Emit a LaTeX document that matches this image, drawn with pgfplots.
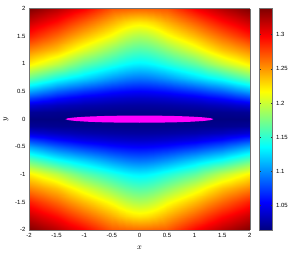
\documentclass[border=0pt]{standalone}
\usepackage{pgfplots}
\pgfplotsset{compat=1.18}
\usepackage{fontspec}
\setmainfont{Liberation Sans}
\definecolor{mag}{RGB}{255,0,255}
\pgfplotsset{colorbar shift/.style={}}
\begin{document}
\begin{tikzpicture}
\begin{axis}[
  view={0}{90},
  scale only axis, width=221.6pt, height=222pt,
  xmin=-2,xmax=2,ymin=-2,ymax=2,
  xtick={-2,-1.5,-1,-0.5,0,0.5,1,1.5,2},
  ytick={-2,-1.5,-1,-0.5,0,0.5,1,1.5,2},
  ztick=\empty,
  tick align=inside, major tick length=0pt,
  axis line style={black!55, line width=0.5pt},
  ticklabel style={font=\fontsize{6}{7}\selectfont},
  /pgf/number format/assume math mode=true,
  xlabel={$x$}, ylabel={$y$},
  label style={font=\fontsize{8}{9}\selectfont},
  xlabel style={yshift=-1.7pt},
  colormap/jet,
  point meta min=1.0146, point meta max=1.338,
  colorbar,
  colorbar style={at={(parent axis.north east)}, anchor=north west, xshift=9.7pt,
    width=13pt, ytick={1.05,1.1,1.15,1.2,1.25,1.3},
    yticklabel style={font=\fontsize{6}{7}\selectfont},
    /pgf/number format/assume math mode=true,
    ytick pos=both, yticklabel pos=right,
    major tick length=1.8pt, tick align=inside,
    tick style={black!80, line width=0.3pt},
    axis line style={black!55, line width=0.5pt}},
]
\addplot3[surf, shader=interp, mesh/cols=25, mesh/rows=21] coordinates {
(-2,-2,1.338) (-1.75,-2,1.329) (-1.5,-2,1.32) (-1.25,-2,1.309) (-1,-2,1.298) (-0.875,-2,1.291) (-0.75,-2,1.284) (-0.625,-2,1.277) (-0.5,-2,1.27) (-0.375,-2,1.2682) (-0.25,-2,1.2666) (-0.125,-2,1.2654) (0,-2,1.265) (0.125,-2,1.2654) (0.25,-2,1.2666) (0.375,-2,1.2682) (0.5,-2,1.27) (0.625,-2,1.277) (0.75,-2,1.284) (0.875,-2,1.291) (1,-2,1.298) (1.25,-2,1.309) (1.5,-2,1.32) (1.75,-2,1.329) (2,-2,1.338)
(-2,-1.75,1.315) (-1.75,-1.75,1.3045) (-1.5,-1.75,1.294) (-1.25,-1.75,1.281) (-1,-1.75,1.268) (-0.875,-1.75,1.2615) (-0.75,-1.75,1.255) (-0.625,-1.75,1.2484) (-0.5,-1.75,1.2419) (-0.375,-1.75,1.2352) (-0.25,-1.75,1.2293) (-0.125,-1.75,1.2252) (0,-1.75,1.2236) (0.125,-1.75,1.2252) (0.25,-1.75,1.2293) (0.375,-1.75,1.2352) (0.5,-1.75,1.2419) (0.625,-1.75,1.2484) (0.75,-1.75,1.255) (0.875,-1.75,1.2615) (1,-1.75,1.268) (1.25,-1.75,1.281) (1.5,-1.75,1.294) (1.75,-1.75,1.3045) (2,-1.75,1.315)
(-2,-1.5,1.289) (-1.75,-1.5,1.277) (-1.5,-1.5,1.265) (-1.25,-1.5,1.2517) (-1,-1.5,1.2384) (-0.875,-1.5,1.2321) (-0.75,-1.5,1.2257) (-0.625,-1.5,1.2194) (-0.5,-1.5,1.213) (-0.375,-1.5,1.2049) (-0.25,-1.5,1.1979) (-0.125,-1.5,1.1929) (0,-1.5,1.191) (0.125,-1.5,1.1929) (0.25,-1.5,1.1979) (0.375,-1.5,1.2049) (0.5,-1.5,1.213) (0.625,-1.5,1.2194) (0.75,-1.5,1.2257) (0.875,-1.5,1.2321) (1,-1.5,1.2384) (1.25,-1.5,1.2517) (1.5,-1.5,1.265) (1.75,-1.5,1.277) (2,-1.5,1.289)
(-2,-1.25,1.255) (-1.75,-1.25,1.245) (-1.5,-1.25,1.2349) (-1.25,-1.25,1.2205) (-1,-1.25,1.206) (-0.875,-1.25,1.1993) (-0.75,-1.25,1.1926) (-0.625,-1.25,1.1859) (-0.5,-1.25,1.1792) (-0.375,-1.25,1.1725) (-0.25,-1.25,1.1667) (-0.125,-1.25,1.1626) (0,-1.25,1.161) (0.125,-1.25,1.1626) (0.25,-1.25,1.1667) (0.375,-1.25,1.1725) (0.5,-1.25,1.1792) (0.625,-1.25,1.1859) (0.75,-1.25,1.1926) (0.875,-1.25,1.1993) (1,-1.25,1.206) (1.25,-1.25,1.2205) (1.5,-1.25,1.2349) (1.75,-1.25,1.245) (2,-1.25,1.255)
(-2,-1,1.221) (-1.75,-1,1.2083) (-1.5,-1,1.1956) (-1.25,-1,1.1809) (-1,-1,1.1662) (-0.875,-1,1.161) (-0.75,-1,1.1559) (-0.625,-1,1.1507) (-0.5,-1,1.1455) (-0.375,-1,1.1404) (-0.25,-1,1.1359) (-0.125,-1,1.1327) (0,-1,1.1315) (0.125,-1,1.1327) (0.25,-1,1.1359) (0.375,-1,1.1404) (0.5,-1,1.1455) (0.625,-1,1.1507) (0.75,-1,1.1559) (0.875,-1,1.161) (1,-1,1.1662) (1.25,-1,1.1809) (1.5,-1,1.1956) (1.75,-1,1.2083) (2,-1,1.221)
(-2,-0.75,1.1689) (-1.75,-0.75,1.1557) (-1.5,-0.75,1.1424) (-1.25,-0.75,1.133) (-1,-0.75,1.1236) (-0.875,-0.75,1.1188) (-0.75,-0.75,1.114) (-0.625,-0.75,1.1091) (-0.5,-0.75,1.1043) (-0.375,-0.75,1.1003) (-0.25,-0.75,1.0967) (-0.125,-0.75,1.0942) (0,-0.75,1.0933) (0.125,-0.75,1.0942) (0.25,-0.75,1.0967) (0.375,-0.75,1.1003) (0.5,-0.75,1.1043) (0.625,-0.75,1.1091) (0.75,-0.75,1.114) (0.875,-0.75,1.1188) (1,-0.75,1.1236) (1.25,-0.75,1.133) (1.5,-0.75,1.1424) (1.75,-0.75,1.1557) (2,-0.75,1.1689)
(-2,-0.5,1.109) (-1.75,-0.5,1.0978) (-1.5,-0.5,1.0865) (-1.25,-0.5,1.0791) (-1,-0.5,1.0716) (-0.875,-0.5,1.0688) (-0.75,-0.5,1.066) (-0.625,-0.5,1.0631) (-0.5,-0.5,1.0603) (-0.375,-0.5,1.0584) (-0.25,-0.5,1.0567) (-0.125,-0.5,1.0555) (0,-0.5,1.055) (0.125,-0.5,1.0555) (0.25,-0.5,1.0567) (0.375,-0.5,1.0584) (0.5,-0.5,1.0603) (0.625,-0.5,1.0631) (0.75,-0.5,1.066) (0.875,-0.5,1.0688) (1,-0.5,1.0716) (1.25,-0.5,1.0791) (1.5,-0.5,1.0865) (1.75,-0.5,1.0978) (2,-0.5,1.109)
(-2,-0.375,1.0753) (-1.75,-0.375,1.0669) (-1.5,-0.375,1.0584) (-1.25,-0.375,1.0527) (-1,-0.375,1.0469) (-0.875,-0.375,1.0453) (-0.75,-0.375,1.0437) (-0.625,-0.375,1.0421) (-0.5,-0.375,1.0405) (-0.375,-0.375,1.0394) (-0.25,-0.375,1.0384) (-0.125,-0.375,1.0378) (0,-0.375,1.0375) (0.125,-0.375,1.0378) (0.25,-0.375,1.0384) (0.375,-0.375,1.0394) (0.5,-0.375,1.0405) (0.625,-0.375,1.0421) (0.75,-0.375,1.0437) (0.875,-0.375,1.0453) (1,-0.375,1.0469) (1.25,-0.375,1.0527) (1.5,-0.375,1.0584) (1.75,-0.375,1.0669) (2,-0.375,1.0753)
(-2,-0.25,1.0428) (-1.75,-0.25,1.0386) (-1.5,-0.25,1.0343) (-1.25,-0.25,1.0318) (-1,-0.25,1.0292) (-0.875,-0.25,1.0285) (-0.75,-0.25,1.0278) (-0.625,-0.25,1.027) (-0.5,-0.25,1.0263) (-0.375,-0.25,1.0258) (-0.25,-0.25,1.0254) (-0.125,-0.25,1.0251) (0,-0.25,1.025) (0.125,-0.25,1.0251) (0.25,-0.25,1.0254) (0.375,-0.25,1.0258) (0.5,-0.25,1.0263) (0.625,-0.25,1.027) (0.75,-0.25,1.0278) (0.875,-0.25,1.0285) (1,-0.25,1.0292) (1.25,-0.25,1.0318) (1.5,-0.25,1.0343) (1.75,-0.25,1.0386) (2,-0.25,1.0428)
(-2,-0.125,1.0219) (-1.75,-0.125,1.0209) (-1.5,-0.125,1.0198) (-1.25,-0.125,1.0192) (-1,-0.125,1.0185) (-0.875,-0.125,1.0183) (-0.75,-0.125,1.0182) (-0.625,-0.125,1.018) (-0.5,-0.125,1.0178) (-0.375,-0.125,1.0177) (-0.25,-0.125,1.0176) (-0.125,-0.125,1.0175) (0,-0.125,1.0175) (0.125,-0.125,1.0175) (0.25,-0.125,1.0176) (0.375,-0.125,1.0177) (0.5,-0.125,1.0178) (0.625,-0.125,1.018) (0.75,-0.125,1.0182) (0.875,-0.125,1.0183) (1,-0.125,1.0185) (1.25,-0.125,1.0192) (1.5,-0.125,1.0198) (1.75,-0.125,1.0209) (2,-0.125,1.0219)
(-2,0,1.015) (-1.75,0,1.015) (-1.5,0,1.015) (-1.25,0,1.015) (-1,0,1.015) (-0.875,0,1.015) (-0.75,0,1.015) (-0.625,0,1.015) (-0.5,0,1.015) (-0.375,0,1.015) (-0.25,0,1.015) (-0.125,0,1.015) (0,0,1.015) (0.125,0,1.015) (0.25,0,1.015) (0.375,0,1.015) (0.5,0,1.015) (0.625,0,1.015) (0.75,0,1.015) (0.875,0,1.015) (1,0,1.015) (1.25,0,1.015) (1.5,0,1.015) (1.75,0,1.015) (2,0,1.015)
(-2,0.125,1.0219) (-1.75,0.125,1.0209) (-1.5,0.125,1.0198) (-1.25,0.125,1.0192) (-1,0.125,1.0185) (-0.875,0.125,1.0183) (-0.75,0.125,1.0182) (-0.625,0.125,1.018) (-0.5,0.125,1.0178) (-0.375,0.125,1.0177) (-0.25,0.125,1.0176) (-0.125,0.125,1.0175) (0,0.125,1.0175) (0.125,0.125,1.0175) (0.25,0.125,1.0176) (0.375,0.125,1.0177) (0.5,0.125,1.0178) (0.625,0.125,1.018) (0.75,0.125,1.0182) (0.875,0.125,1.0183) (1,0.125,1.0185) (1.25,0.125,1.0192) (1.5,0.125,1.0198) (1.75,0.125,1.0209) (2,0.125,1.0219)
(-2,0.25,1.0428) (-1.75,0.25,1.0386) (-1.5,0.25,1.0343) (-1.25,0.25,1.0318) (-1,0.25,1.0292) (-0.875,0.25,1.0285) (-0.75,0.25,1.0278) (-0.625,0.25,1.027) (-0.5,0.25,1.0263) (-0.375,0.25,1.0258) (-0.25,0.25,1.0254) (-0.125,0.25,1.0251) (0,0.25,1.025) (0.125,0.25,1.0251) (0.25,0.25,1.0254) (0.375,0.25,1.0258) (0.5,0.25,1.0263) (0.625,0.25,1.027) (0.75,0.25,1.0278) (0.875,0.25,1.0285) (1,0.25,1.0292) (1.25,0.25,1.0318) (1.5,0.25,1.0343) (1.75,0.25,1.0386) (2,0.25,1.0428)
(-2,0.375,1.0753) (-1.75,0.375,1.0669) (-1.5,0.375,1.0584) (-1.25,0.375,1.0527) (-1,0.375,1.0469) (-0.875,0.375,1.0453) (-0.75,0.375,1.0437) (-0.625,0.375,1.0421) (-0.5,0.375,1.0405) (-0.375,0.375,1.0394) (-0.25,0.375,1.0384) (-0.125,0.375,1.0378) (0,0.375,1.0375) (0.125,0.375,1.0378) (0.25,0.375,1.0384) (0.375,0.375,1.0394) (0.5,0.375,1.0405) (0.625,0.375,1.0421) (0.75,0.375,1.0437) (0.875,0.375,1.0453) (1,0.375,1.0469) (1.25,0.375,1.0527) (1.5,0.375,1.0584) (1.75,0.375,1.0669) (2,0.375,1.0753)
(-2,0.5,1.109) (-1.75,0.5,1.0978) (-1.5,0.5,1.0865) (-1.25,0.5,1.0791) (-1,0.5,1.0716) (-0.875,0.5,1.0688) (-0.75,0.5,1.066) (-0.625,0.5,1.0631) (-0.5,0.5,1.0603) (-0.375,0.5,1.0584) (-0.25,0.5,1.0567) (-0.125,0.5,1.0555) (0,0.5,1.055) (0.125,0.5,1.0555) (0.25,0.5,1.0567) (0.375,0.5,1.0584) (0.5,0.5,1.0603) (0.625,0.5,1.0631) (0.75,0.5,1.066) (0.875,0.5,1.0688) (1,0.5,1.0716) (1.25,0.5,1.0791) (1.5,0.5,1.0865) (1.75,0.5,1.0978) (2,0.5,1.109)
(-2,0.75,1.1689) (-1.75,0.75,1.1557) (-1.5,0.75,1.1424) (-1.25,0.75,1.133) (-1,0.75,1.1236) (-0.875,0.75,1.1188) (-0.75,0.75,1.114) (-0.625,0.75,1.1091) (-0.5,0.75,1.1043) (-0.375,0.75,1.1003) (-0.25,0.75,1.0967) (-0.125,0.75,1.0942) (0,0.75,1.0933) (0.125,0.75,1.0942) (0.25,0.75,1.0967) (0.375,0.75,1.1003) (0.5,0.75,1.1043) (0.625,0.75,1.1091) (0.75,0.75,1.114) (0.875,0.75,1.1188) (1,0.75,1.1236) (1.25,0.75,1.133) (1.5,0.75,1.1424) (1.75,0.75,1.1557) (2,0.75,1.1689)
(-2,1,1.221) (-1.75,1,1.2083) (-1.5,1,1.1956) (-1.25,1,1.1809) (-1,1,1.1662) (-0.875,1,1.161) (-0.75,1,1.1559) (-0.625,1,1.1507) (-0.5,1,1.1455) (-0.375,1,1.1404) (-0.25,1,1.1359) (-0.125,1,1.1327) (0,1,1.1315) (0.125,1,1.1327) (0.25,1,1.1359) (0.375,1,1.1404) (0.5,1,1.1455) (0.625,1,1.1507) (0.75,1,1.1559) (0.875,1,1.161) (1,1,1.1662) (1.25,1,1.1809) (1.5,1,1.1956) (1.75,1,1.2083) (2,1,1.221)
(-2,1.25,1.255) (-1.75,1.25,1.245) (-1.5,1.25,1.2349) (-1.25,1.25,1.2205) (-1,1.25,1.206) (-0.875,1.25,1.1993) (-0.75,1.25,1.1926) (-0.625,1.25,1.1859) (-0.5,1.25,1.1792) (-0.375,1.25,1.1725) (-0.25,1.25,1.1667) (-0.125,1.25,1.1626) (0,1.25,1.161) (0.125,1.25,1.1626) (0.25,1.25,1.1667) (0.375,1.25,1.1725) (0.5,1.25,1.1792) (0.625,1.25,1.1859) (0.75,1.25,1.1926) (0.875,1.25,1.1993) (1,1.25,1.206) (1.25,1.25,1.2205) (1.5,1.25,1.2349) (1.75,1.25,1.245) (2,1.25,1.255)
(-2,1.5,1.289) (-1.75,1.5,1.277) (-1.5,1.5,1.265) (-1.25,1.5,1.2517) (-1,1.5,1.2384) (-0.875,1.5,1.2321) (-0.75,1.5,1.2257) (-0.625,1.5,1.2194) (-0.5,1.5,1.213) (-0.375,1.5,1.2049) (-0.25,1.5,1.1979) (-0.125,1.5,1.1929) (0,1.5,1.191) (0.125,1.5,1.1929) (0.25,1.5,1.1979) (0.375,1.5,1.2049) (0.5,1.5,1.213) (0.625,1.5,1.2194) (0.75,1.5,1.2257) (0.875,1.5,1.2321) (1,1.5,1.2384) (1.25,1.5,1.2517) (1.5,1.5,1.265) (1.75,1.5,1.277) (2,1.5,1.289)
(-2,1.75,1.315) (-1.75,1.75,1.3045) (-1.5,1.75,1.294) (-1.25,1.75,1.281) (-1,1.75,1.268) (-0.875,1.75,1.2615) (-0.75,1.75,1.255) (-0.625,1.75,1.2484) (-0.5,1.75,1.2419) (-0.375,1.75,1.2352) (-0.25,1.75,1.2293) (-0.125,1.75,1.2252) (0,1.75,1.2236) (0.125,1.75,1.2252) (0.25,1.75,1.2293) (0.375,1.75,1.2352) (0.5,1.75,1.2419) (0.625,1.75,1.2484) (0.75,1.75,1.255) (0.875,1.75,1.2615) (1,1.75,1.268) (1.25,1.75,1.281) (1.5,1.75,1.294) (1.75,1.75,1.3045) (2,1.75,1.315)
(-2,2,1.338) (-1.75,2,1.329) (-1.5,2,1.32) (-1.25,2,1.309) (-1,2,1.298) (-0.875,2,1.291) (-0.75,2,1.284) (-0.625,2,1.277) (-0.5,2,1.27) (-0.375,2,1.2682) (-0.25,2,1.2666) (-0.125,2,1.2654) (0,2,1.265) (0.125,2,1.2654) (0.25,2,1.2666) (0.375,2,1.2682) (0.5,2,1.27) (0.625,2,1.277) (0.75,2,1.284) (0.875,2,1.291) (1,2,1.298) (1.25,2,1.309) (1.5,2,1.32) (1.75,2,1.329) (2,2,1.338)
};
\addplot3[fill=mag, draw=none] coordinates {
(1.34,0,1.34) (1.2943,0.0168,1.34) (1.1605,0.0325,1.34) (0.9475,0.046,1.34) (0.67,0.0563,1.34) (0.3468,0.0628,1.34) (0,0.065,1.34) (-0.3468,0.0628,1.34) (-0.67,0.0563,1.34) (-0.9475,0.046,1.34) (-1.1605,0.0325,1.34) (-1.2943,0.0168,1.34) (-1.34,0,1.34) (-1.2943,-0.0168,1.34) (-1.1605,-0.0325,1.34) (-0.9475,-0.046,1.34) (-0.67,-0.0563,1.34) (-0.3468,-0.0628,1.34) (0,-0.065,1.34) (0.3468,-0.0628,1.34) (0.67,-0.0563,1.34) (0.9475,-0.046,1.34) (1.1605,-0.0325,1.34) (1.2943,-0.0168,1.34)
} -- cycle;
\end{axis}
\path (current bounding box.north) ++(0,3.1pt) (current bounding box.south) ++(0,-1pt);
\end{tikzpicture}
\end{document}
